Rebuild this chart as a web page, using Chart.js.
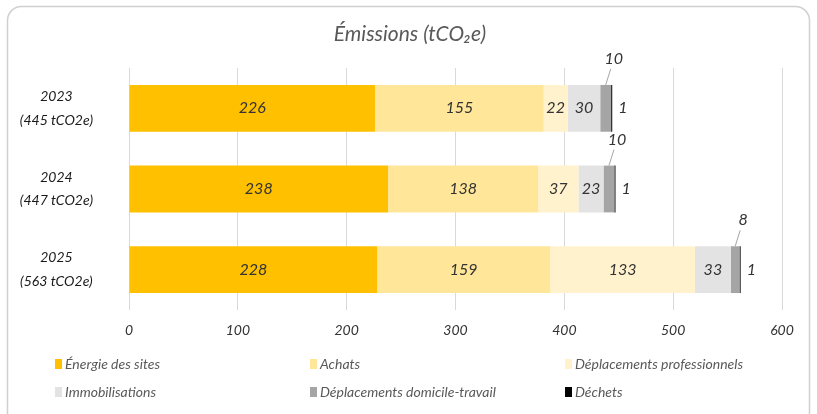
<!DOCTYPE html>
<html>
<head>
<meta charset="utf-8">
<script src="https://cdn.jsdelivr.net/npm/chart.js@4/dist/chart.umd.min.js"></script>
<style>
  html, body { margin: 0; padding: 0; background: #fff; }
  #wrap { width: 817px; height: 414px; }
</style>
</head>
<body>
<div id="wrap"><canvas id="chart" width="817" height="414"></canvas></div>
<script>
// Years and their totals (shown as two-line axis labels)
const years = ['2023', '2024', '2025'];
const totals = ['445 tCO2e', '447 tCO2e', '563 tCO2e'];

// Emissions per source, tCO2e
const energieSites = [226, 238, 228];
const achats = [155, 138, 159];
const deplacementsPro = [22, 37, 133];
const immobilisations = [30, 23, 33];
const domicileTravail = [10, 10, 8];
const dechets = [1, 1, 1];

const xTicks = [0, 100, 200, 300, 400, 500, 600];

const FONT = "'Lato', 'DejaVu Sans', sans-serif";
const TEXT = '#333333';

const series = [
    { label: 'Énergie des sites', data: energieSites, color: '#FFC000', place: 'center' },
    { label: 'Achats', data: achats, color: '#FFE699', place: 'center' },
    { label: 'Déplacements professionnels', data: deplacementsPro, color: '#FFF2CC', place: 'center' },
    { label: 'Immobilisations', data: immobilisations, color: '#E3E3E3', place: 'center' },
    { label: 'Déplacements domicile-travail', data: domicileTravail, color: '#A5A5A5', place: 'above' },
    { label: 'Déchets', data: dechets, color: '#000000', place: 'right' },
];

// Rounded card behind the chart, plus title
const cardPlugin = {
    id: 'card',
    beforeDraw(chart) {
        const ctx = chart.ctx;
        ctx.save();
        ctx.fillStyle = '#fff';
        ctx.fillRect(0, 0, chart.width, chart.height);
        ctx.strokeStyle = '#D0D0D0';
        ctx.lineWidth = 1.5;
        ctx.beginPath();
        ctx.roundRect(7.5, 6.5, 802, 420, 14);
        ctx.stroke();
        ctx.fillStyle = '#595959';
        ctx.font = "italic 21px " + FONT;
        ctx.textAlign = 'center';
        ctx.textBaseline = 'middle';
        ctx.fillText('Émissions (tCO₂e)', 410, 34);
        ctx.restore();
    }
};

// Value labels on the segments
const labelPlugin = {
    id: 'segLabels',
    afterDatasetsDraw(chart) {
        const ctx = chart.ctx;
        ctx.save();
        ctx.font = "italic 16px " + FONT;
        ctx.fillStyle = TEXT;
        ctx.textBaseline = 'middle';
        chart.data.datasets.forEach((ds, di) => {
            const meta = chart.getDatasetMeta(di);
            meta.data.forEach((bar, i) => {
                const txt = String(ds.data[i]);
                const cx = (bar.x + bar.base) / 2;
                if (ds.place === 'center') {
                    ctx.textAlign = 'center';
                    ctx.fillText(txt, cx, bar.y);
                } else if (ds.place === 'right') {
                    ctx.textAlign = 'left';
                    ctx.fillText(txt, bar.x + 6, bar.y);
                } else {
                    const top = bar.y - bar.height / 2;
                    ctx.strokeStyle = '#A6A6A6';
                    ctx.lineWidth = 1;
                    ctx.beginPath();
                    ctx.moveTo(cx, top);
                    ctx.lineTo(cx + 5, top - 16);
                    ctx.stroke();
                    ctx.textAlign = 'center';
                    ctx.fillText(txt, cx + 8, top - 26);
                }
            });
        });
        ctx.restore();
    }
};

// Legend in three fixed columns under the axis
const legendPlugin = {
    id: 'gridLegend',
    afterDraw(chart) {
        const ctx = chart.ctx;
        const cols = [55, 310, 565];
        const rows = [364, 392];
        ctx.save();
        ctx.font = "italic 14px " + FONT;
        ctx.textBaseline = 'middle';
        ctx.textAlign = 'left';
        series.forEach((s, k) => {
            const x = cols[k % 3], y = rows[Math.floor(k / 3)];
            ctx.fillStyle = s.color;
            ctx.fillRect(x, y - 5, 7, 10);
            ctx.fillStyle = '#595959';
            ctx.fillText(s.label, x + 10, y);
        });
        ctx.restore();
    }
};

const data = {
    labels: years.map((y, i) => [y, '(' + totals[i] + ')']),
    datasets: series.map(s => ({
        label: s.label,
        data: s.data,
        backgroundColor: s.color,
        place: s.place,
        borderWidth: 0,
        categoryPercentage: 1,
        barPercentage: 0.58,
    }))
};

new Chart(document.getElementById('chart'), {
    type: 'bar',
    data: data,
    plugins: [cardPlugin, labelPlugin, legendPlugin],
    options: {
        indexAxis: 'y',
        responsive: false,
        animation: false,
        layout: { padding: { top: 68, right: 35, bottom: 74, left: 0 } },
        plugins: {
            legend: { display: false },
            title: { display: false },
            tooltip: { enabled: false }
        },
        scales: {
            x: {
                stacked: true,
                min: 0,
                max: 600,
                afterBuildTicks(scale) {
                    scale.ticks = xTicks.map(v => ({ value: v }));
                },
                afterFit(scale) { scale.height = 30; },
                grid: { color: '#D9D9D9', drawTicks: false },
                border: { display: false },
                ticks: {
                    padding: 12,
                    color: TEXT,
                    font: { family: FONT, size: 14, style: 'italic' }
                }
            },
            y: {
                stacked: true,
                afterFit(scale) { scale.width = 129; },
                grid: { display: false },
                border: { display: false },
                ticks: {
                    crossAlign: 'center',
                    padding: 28,
                    color: '#1a1a1a',
                    font: { family: FONT, size: 14, style: 'italic', lineHeight: 1.7 }
                }
            }
        }
    }
});
</script>
</body>
</html>
